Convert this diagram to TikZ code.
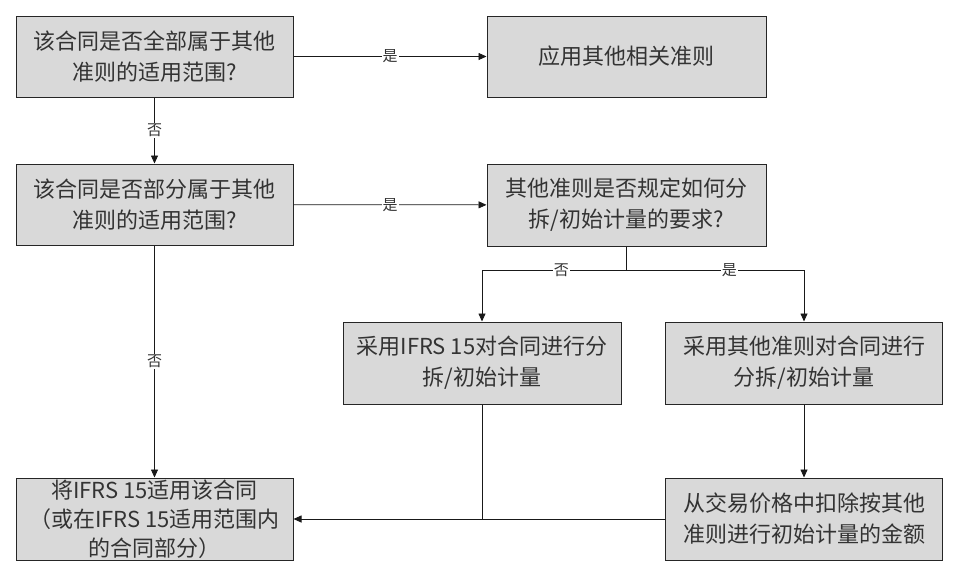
\documentclass[tikz,border=0pt]{standalone}
\usepackage{fontspec}
\setmainfont{Noto Sans CJK SC}
\usetikzlibrary{arrows.meta}
\begin{document}
\begin{tikzpicture}[x=1pt,y=-1pt,
  box/.style={draw=black!85, fill=gray!30, line width=1pt, minimum width=277pt, minimum height=81pt,
    align=center, font=\fontsize{22}{31}\selectfont, text=black!80, inner sep=0pt},
  conn/.style={line width=0.8pt, draw=black!90},
  arr/.style={conn, -{Triangle[length=8pt,width=7pt]}},
  lbl/.style={fill=white, font=\fontsize{15}{15}\selectfont, inner sep=1pt, text=black!80}]
\useasboundingbox (0,0) rectangle (960,579);
\fill[white] (0,0) rectangle (960,579);
\node[box] (b1) at (154.5,56.5) {该合同是否全部属于其他\\准则的适用范围?};
\node[box, minimum width=279pt] (b2) at (626.5,56.5) {应用其他相关准则};
\node[box] (b3) at (154.5,204.5) {该合同是否部分属于其他\\准则的适用范围?};
\node[box, minimum width=279pt, minimum height=82pt] (b4) at (626.5,205) {其他准则是否规定如何分\\拆/初始计量的要求?};
\node[box, minimum width=278pt, minimum height=82pt] (b5) at (482,363) {采用IFRS 15对合同进行分\\拆/初始计量};
\node[box, minimum height=82pt] (b6) at (804,363) {采用其他准则对合同进行\\分拆/初始计量};
\node[box, minimum height=82pt] (b7) at (804,519) {从交易价格中扣除按其他\\准则进行初始计量的金额};
\node[box, minimum height=82pt, font=\fontsize{22}{29}\selectfont] (b8) at (154.5,519) {将IFRS 15适用该合同\\（或在IFRS 15适用范围内\\的合同部分）};
\coordinate (j1) at (626.5,270);
\draw[arr] (b1) -- node[lbl] {是} (b2);
\draw[arr] (b1) -- node[lbl] {否} (b3);
\draw[arr] (b3) -- node[lbl] {是} (b4);
\draw[arr] (b3) -- node[lbl] {否} (b8);
\draw[arr] (b4.south) -- (j1) -- node[lbl, pos=0.45] {否} (b5.north |- j1) -- (b5.north);
\draw[arr] (j1) -- node[lbl, pos=0.58] {是} (b6.north |- j1) -- (b6.north);
\draw[arr] (b6) -- (b7);
\draw[arr] (b7.west) -- (b8.east);
\draw[conn] (b5.south) -- (b5.south |- b7.west);
\end{tikzpicture}
\end{document}
